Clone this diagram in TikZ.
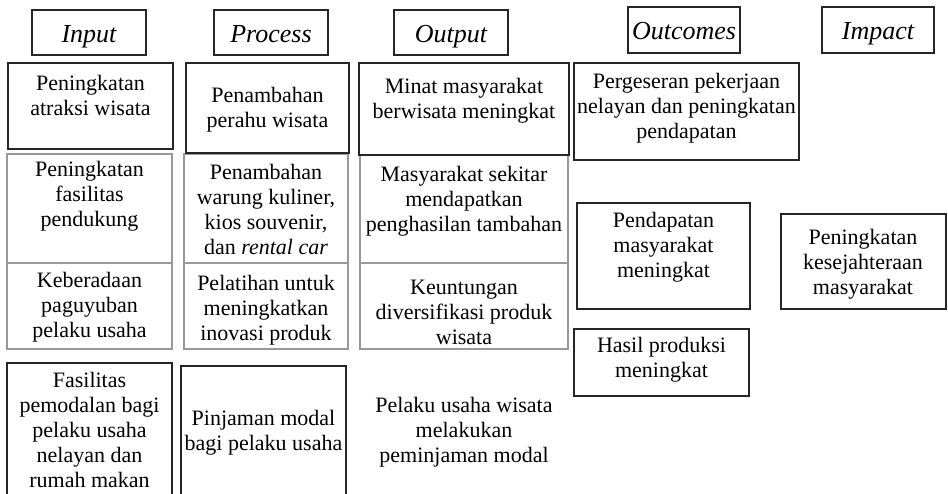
\documentclass[tikz,border=0pt]{standalone}
\usepackage{fontspec}
\setmainfont{Liberation Serif}
\usetikzlibrary{positioning,fit}

\begin{document}
\begin{tikzpicture}[x=0.5pt,y=-0.5pt,
    head/.style={rectangle,draw=black!85,line width=0.6pt,inner sep=0pt},
    blk/.style={rectangle,draw=black!85,line width=0.75pt,inner sep=0pt},
    gry/.style={rectangle,draw=black!40,line width=0.6pt,inner sep=0pt},
    htxt/.style={font=\fontsize{13}{15}\selectfont\itshape,anchor=base,inner sep=0pt},
    txt/.style={font=\fontsize{11}{12.5}\selectfont,align=center,inner sep=0pt}
]
\clip (0,0) rectangle (948,493);

% column heads
\node[head,fit={(32,10) (146,55)}] (hin) {};
\node[htxt] (hint) at (hin|-0,42) {Input};
\node[head,fit={(214,10) (328,55)}] (hpr) {};
\node[htxt] (hprt) at (hpr|-0,42) {Process};
\node[head,fit={(394,10) (508,55)}] (hout) {};
\node[htxt] (houtt) at (hout|-0,42) {Output};
\node[head,fit={(628,7) (740,53)}] (hoc) {};
\node[htxt] (hoct) at (hoc|-0,39) {Outcomes};
\node[head,fit={(822,7) (934,53)}] (him) {};
\node[htxt] (himt) at (him|-0,39) {Impact};

% gray boxes first
\node[gry,fit={(7,154) (172,263)}] (in2) {};
\node[gry,fit={(7,263) (172,349)}] (in3) {};
\node[gry,fit={(184,154) (348,263)}] (pr2) {};
\node[gry,fit={(184,263) (348,349)}] (pr3) {};
\node[gry,fit={(360,155) (568,263)}] (out2) {};
\node[gry,fit={(360,263) (568,349)}] (out3) {};

% black boxes
\node[blk,fit={(8,63) (173,149)}] (in1) {};
\node[blk,fit={(7,363) (172,500)}] (in4) {};
\node[blk,fit={(186,63) (349,153)}] (pr1) {};
\node[blk,fit={(181,366) (346,500)}] (pr4) {};
\node[blk,fit={(359,63) (569,155)}] (out1) {};
\node[blk,fit={(574,63) (799,160)}] (oc1) {};
\node[blk,fit={(577,203) (750,309)}] (oc2) {};
\node[blk,fit={(574,329) (749,396)}] (oc3) {};
\node[blk,fit={(781,214) (946,309)}] (im1) {};

% input
\node[txt] (in1t) at (90.5,95.5) {Peningkatan\\atraksi wisata};
\node[txt] (in2t) at (89.5,196) {Peningkatan\\fasilitas\\pendukung};
\node[txt] (in3t) at (89.5,307) {Keberadaan\\paguyuban\\pelaku usaha};
\node[txt] (in4t) at (89.5,430) {Fasilitas\\pemodalan bagi\\pelaku usaha\\nelayan dan\\rumah makan};

% process
\node[txt] (pr1t) at (267.5,110) {Penambahan\\perahu wisata};
\node[txt] (pr2t) at (266,209.5) {Penambahan\\warung kuliner,\\kios souvenir,\\dan \textit{rental car}};
\node[txt] (pr3t) at (266,310) {Pelatihan untuk\\meningkatkan\\inovasi produk};
\node[txt] (pr4t) at (263.5,432.5) {Pinjaman modal\\bagi pelaku usaha};

% output
\node[txt] (out1t) at (464,100.5) {Minat masyarakat\\berwisata meningkat};
\node[txt] (out2t) at (464,201) {Masyarakat sekitar\\mendapatkan\\penghasilan tambahan};
\node[txt] (out3t) at (464,312.5) {Keuntungan\\diversifikasi produk\\wisata};
\node[txt] (out4t) at (464,432) {Pelaku usaha wisata\\melakukan\\peminjaman modal};

% outcomes and impact
\node[txt] (oc1t) at (686.5,108) {Pergeseran pekerjaan\\nelayan dan peningkatan\\pendapatan};
\node[txt] (oc2t) at (663.5,247) {Pendapatan\\masyarakat\\meningkat};
\node[txt] (oc3t) at (661.5,359.5) {Hasil produksi\\meningkat};
\node[txt] (im1t) at (863,264.5) {Peningkatan\\kesejahteraan\\masyarakat};
\end{tikzpicture}
\end{document}
